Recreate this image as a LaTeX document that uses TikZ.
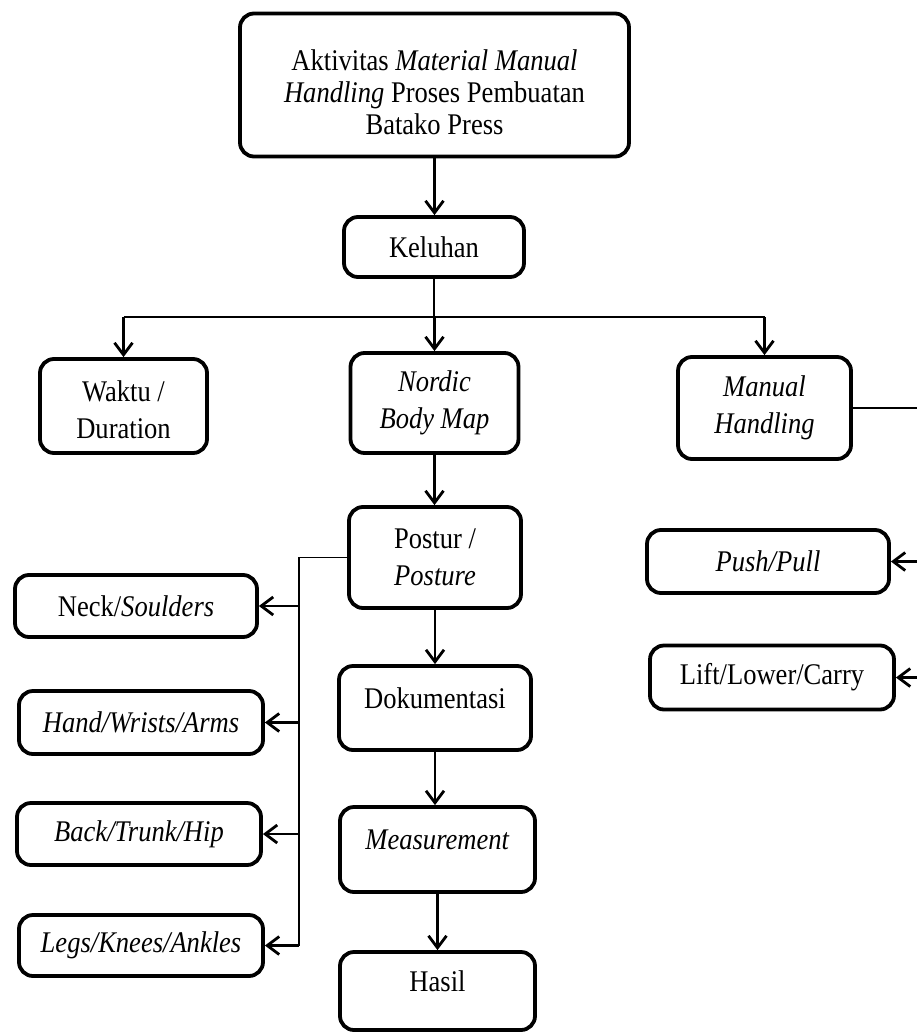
\documentclass[tikz,border=0pt]{standalone}
\usepackage{fontspec}
\setmainfont{Liberation Serif}[FakeStretch=0.885]
\usetikzlibrary{arrows.meta}
\begin{document}
\begin{tikzpicture}[x=1pt,y=-1pt,
  box/.style={draw, line width=3.8pt, rounded corners=14pt, align=center,
    inner sep=0pt, font=\fontsize{30}{37}\selectfont},
  lowtext/.style={text height=20pt, text depth=20pt},
  arr/.style={line width=2.8pt, -{Straight Barb[length=12pt,width=18pt]}},
  thinline/.style={line width=1.6pt}]
\useasboundingbox (0,0) rectangle (917,1036);

\node[box, minimum width=389pt, minimum height=143pt, font=\fontsize{30}{32}\selectfont] (top) at (434.5,85)
  {\rule{0pt}{36pt}Aktivitas \textit{Material Manual}\\ \textit{Handling} Proses Pembuatan\\ Batako Press};
\node[box, minimum width=180pt, minimum height=60pt] (kel) at (434,247) {Keluhan};
\node[box, minimum width=167pt, minimum height=94pt] (waktu) at (123.5,406) {\rule{0pt}{28pt}Waktu /\\ Duration};
\node[box, minimum width=168pt, minimum height=100pt] (nordic) at (434.5,403) {\textit{Nordic}\\ \textit{Body Map}};
\node[box, minimum width=173pt, minimum height=102pt] (manual) at (764.5,408) {\textit{Manual}\\ \textit{Handling}};
\node[box, minimum width=172pt, minimum height=101pt] (postur) at (435,557.5) {Postur /\\ \textit{Posture}};

\node[box, minimum width=242pt, minimum height=62pt] (neck) at (136,606) {Neck/\textit{Soulders}};
\node[box, minimum width=244pt, minimum height=63pt] (hand) at (141,722.5) {\textit{Hand/Wrists/Arms}};
\node[box, minimum width=244pt, minimum height=62pt] (back) at (139,834) {\textit{Back/Trunk/Hip}};
\node[box, minimum width=244pt, minimum height=61pt] (legs) at (141,945.5) {\textit{Legs/Knees/Ankles}};

\node[box, lowtext, minimum width=192pt, minimum height=84pt] (dok) at (435,708) {Dokumentasi};
\node[box, lowtext, minimum width=195pt, minimum height=85pt] (meas) at (437.5,849.5) {\textit{Measurement}};
\node[box, lowtext, minimum width=195pt, minimum height=78pt] (hasil) at (437.5,991) {Hasil};

\node[box, minimum width=242pt, minimum height=63pt] (push) at (768,561.5) {\textit{Push/Pull}};
\node[box, minimum width=244pt, minimum height=64pt] (lift) at (772,677.5) {Lift/Lower/Carry};

\coordinate (bar) at (0,317);
\coordinate (spx) at (299,0);
\coordinate (edge) at (917,0);

% top to Keluhan
\draw[arr] (top.south) -- (top.south |- kel.north);
% Keluhan branching
\draw[thinline] (kel.south) -- (kel.south |- bar);
\draw[thinline] (waktu.north |- bar) -- (manual.north |- bar);
\draw[arr] (waktu.north |- bar) -- (waktu.north);
\draw[arr] (nordic.north |- bar) -- (nordic.north);
\draw[arr] (manual.north |- bar) -- (manual.north);

% central chain
\draw[arr] (nordic.south) -- (nordic.south |- postur.north);
\draw[arr] (postur.south) -- (postur.south |- dok.north);
\draw[arr] (dok.south) -- (dok.south |- meas.north);
\draw[arr] (meas.south) -- (meas.south |- hasil.north);

% posture branch
\draw[thinline] (postur.west) -- (postur.west -| spx) -- (spx |- legs.east);
\draw[arr] (spx |- neck.east) -- (neck.east);
\draw[arr] (spx |- hand.east) -- (hand.east);
\draw[arr] (spx |- back.east) -- (back.east);
\draw[arr] (spx |- legs.east) -- (legs.east);

% manual handling branch
\draw[thinline] (manual.east) -- (manual.east -| edge);
\draw[arr] (edge |- push.east) -- (push.east);
\draw[arr] (edge |- lift.east) -- (lift.east);
\end{tikzpicture}
\end{document}
